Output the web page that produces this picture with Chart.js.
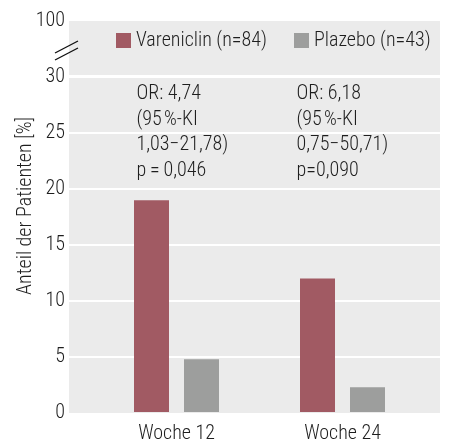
<!DOCTYPE html>
<html>
<head>
<meta charset="utf-8">
<script src="https://cdn.jsdelivr.net/npm/chart.js@4"></script>
<style>
  html, body { margin: 0; padding: 0; background: #fff; }
  #wrap { width: 449px; height: 441px; }
</style>
</head>
<body>
<div id="wrap"><canvas id="chart" width="449" height="441"></canvas></div>
<script>
// data
const categories = ['Woche 12', 'Woche 24'];
const catPos = [1, 2];
const vareniclin = [19.0, 12.0];
const plazebo = [4.8, 2.3];
const yTicks = [0, 5, 10, 15, 20, 25, 30];
const breakTick = 100;
const seriesLabels = ['Vareniclin (n=84)', 'Plazebo (n=43)'];
const seriesColors = ['#a15a63', '#9d9e9d'];
const statLines = [
  ['OR: 4,74', '(95\u202F%-KI', '1,03\u221221,78)', 'p\u2009=\u20090,046'],
  ['OR: 6,18', '(95\u202F%-KI', '0,75\u221250,71)', 'p=0,090']
];
const statOffset = [-40, -46]; // text start relative to category centre

const FONT = '"Roboto Condensed", "Liberation Sans", Arial, sans-serif';
const WEIGHT = 300;
const PANEL = '#ebebeb';
const INK = '#1e1e1e';

const panelPlugin = {
  id: 'panels',
  beforeDraw(chart) {
    const { ctx, chartArea: a, scales } = chart;
    ctx.save();
    // lower panel (0-30)
    ctx.fillStyle = PANEL;
    ctx.fillRect(a.left, a.top, a.right - a.left, a.bottom - a.top);
    // upper panel (axis break up to 100)
    ctx.fillRect(a.left, 21, a.right - a.left, a.top - 2 - 21);

    // OR / KI annotations (gridlines get drawn over them, like the original)
    ctx.fillStyle = INK;
    ctx.font = WEIGHT + ' 20px ' + FONT;
    ctx.textAlign = 'left';
    ctx.textBaseline = 'alphabetic';
    const baseVals = [28.0, 25.7, 23.45, 21.2];
    statLines.forEach((lines, i) => {
      const x = scales.x.getPixelForValue(catPos[i]) + statOffset[i];
      lines.forEach((t, j) => ctx.fillText(t, x, scales.y.getPixelForValue(baseVals[j])));
    });
    ctx.restore();
  },
  afterDraw(chart) {
    const { ctx, chartArea: a } = chart;
    ctx.save();
    // "100" label of the upper panel
    ctx.fillStyle = INK;
    ctx.font = WEIGHT + ' 20px ' + FONT;
    ctx.textAlign = 'right';
    ctx.textBaseline = 'middle';
    ctx.fillText(String(breakTick), a.left - 4, 21);

    // break marks
    ctx.strokeStyle = '#111';
    ctx.lineWidth = 1.4;
    ctx.beginPath();
    ctx.moveTo(55, 53); ctx.lineTo(78, 41);
    ctx.moveTo(55, 60); ctx.lineTo(78, 48);
    ctx.stroke();

    // legend inside the upper panel
    const items = [116, 294];
    chart.data.datasets.forEach((ds, i) => {
      ctx.fillStyle = ds.backgroundColor;
      ctx.fillRect(items[i], 33, 15, 15);
      ctx.fillStyle = INK;
      ctx.font = WEIGHT + ' 20px ' + FONT;
      ctx.textAlign = 'left';
      ctx.textBaseline = 'middle';
      ctx.fillText(ds.label, items[i] + 20, 41);
    });

    // y axis title
    ctx.translate(26, 206);
    ctx.rotate(-Math.PI / 2);
    ctx.textAlign = 'center';
    ctx.textBaseline = 'middle';
    ctx.fillStyle = INK;
    ctx.font = WEIGHT + ' 20px ' + FONT;
    ctx.fillText('Anteil der Patienten [%]', 0, 0);
    ctx.restore();
  }
};

new Chart(document.getElementById('chart'), {
  type: 'bar',
  data: {
    datasets: [
      {
        label: seriesLabels[0],
        data: catPos.map((x, i) => ({ x, y: vareniclin[i] })),
        backgroundColor: seriesColors[0]
      },
      {
        label: seriesLabels[1],
        data: catPos.map((x, i) => ({ x, y: plazebo[i] })),
        backgroundColor: seriesColors[1]
      }
    ]
  },
  options: {
    responsive: false,
    animation: false,
    layout: { padding: { top: 77, right: 9, left: 0, bottom: 0 } },
    datasets: { bar: { categoryPercentage: 0.6024, barPercentage: 0.7 } },
    plugins: { legend: { display: false }, tooltip: { enabled: false } },
    scales: {
      x: {
        type: 'linear',
        offset: false,
        min: 0.3524,
        max: 2.5873,
        afterBuildTicks: s => { s.ticks = catPos.map(v => ({ value: v })); },
        afterFit: s => { s.height = 28; },
        grid: { display: false },
        border: { display: false },
        ticks: {
          callback: v => categories[catPos.indexOf(v)],
          color: INK,
          font: { family: FONT, size: 20, weight: WEIGHT },
          padding: 1
        }
      },
      y: {
        min: 0,
        max: 30,
        afterBuildTicks: s => { s.ticks = yTicks.map(v => ({ value: v })); },
        afterFit: s => { s.width = 69; },
        grid: {
          color: c => (c.tick && c.tick.value === 0 ? 'rgba(0,0,0,0)' : '#ffffff'),
          lineWidth: 2,
          drawTicks: false
        },
        border: { display: false },
        ticks: {
          color: INK,
          font: { family: FONT, size: 20, weight: WEIGHT },
          padding: 4
        }
      }
    }
  },
  plugins: [panelPlugin]
});
</script>
</body>
</html>
